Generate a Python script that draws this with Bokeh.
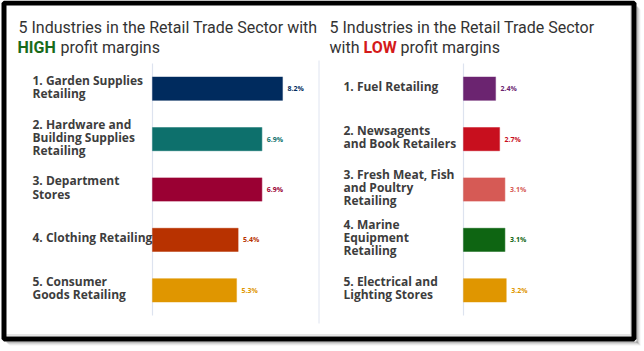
from bokeh.plotting import figure
from bokeh.models import Range1d, ColumnDataSource
from bokeh.core.properties import value
from bokeh.embed import file_html
from bokeh.resources import INLINE

# ---------------- data ----------------
high_labels = [
    "1. Garden Supplies\nRetailing",
    "2. Hardware and\nBuilding Supplies\nRetailing",
    "3. Department\nStores",
    "4. Clothing Retailing",
    "5. Consumer\nGoods Retailing",
]
high_values = [8.2, 6.9, 6.9, 5.4, 5.3]
high_colors = ["#002b5e", "#0d706c", "#9a0033", "#b83200", "#e09600"]

low_labels = [
    "1. Fuel Retailing",
    "2. Newsagents\nand Book Retailers",
    "3. Fresh Meat, Fish\nand Poultry\nRetailing",
    "4. Marine\nEquipment\nRetailing",
    "5. Electrical and\nLighting Stores",
]
low_values = [2.4, 2.7, 3.1, 3.1, 3.2]
low_colors = ["#6b2470", "#c80f1e", "#d65a55", "#0e6512", "#e09600"]

title_main_left = "5 Industries in the Retail Trade Sector with"
title_main_right = "5 Industries in the Retail Trade Sector"
# ---------------------------------------

W, H = 644, 351
p = figure(width=W, height=H, x_range=Range1d(0, W), y_range=Range1d(H, 0),
           output_backend="svg", toolbar_location=None, min_border=0)
p.axis.visible = False
p.grid.visible = False
p.outline_line_color = None
p.background_fill_color = "white"
p.border_fill_color = "white"

# category (row) range shared by both panels
band_top, band_bottom = 63.0, 315.0
n = len(high_labels)
unit = (band_bottom - band_top) / n
p.extra_y_ranges = {"cat": Range1d(n + 0.5 + (H - band_bottom) / unit, 0.5 - band_top / unit)}

# value ranges for each panel
l_origin, l_scale = 152.0, 15.85
r_origin, r_scale = 463.0, 13.35
p.extra_x_ranges = {
    "L": Range1d(-l_origin / l_scale, (W - l_origin) / l_scale),
    "R": Range1d(-r_origin / r_scale, (W - r_origin) / r_scale),
}

# ---- frame, shadow ----
for i, a in enumerate([0.35, 0.22, 0.12, 0.06]):
    p.quad(left=636 + i, right=637 + i, top=6 + i, bottom=342 + i, fill_color="black",
           fill_alpha=a, line_color=None)
    p.quad(left=6 + i, right=637 + i, top=341 + i, bottom=342 + i, fill_color="black",
           fill_alpha=a, line_color=None)
p.segment(x0=[630.5, 6], y0=[5, 334.5], x1=[630.5, 631], y1=[335, 334.5],
          line_color="#dddddd", line_width=1.5)
p.quad(left=3.5, right=633.5, top=2.5, bottom=338.5, fill_color=None,
       line_color="black", line_width=5)

# divider
p.segment(x0=318.5, y0=60, x1=318.5, y1=323, line_color="#dfe4f0", line_width=1)

# ---- titles ----
tf = value("Roboto")
p.text(x=[18], y=[27], text=[title_main_left], text_font=tf, text_font_size="16px",
       text_color="#333333", text_baseline="middle")
p.text(x=[17], y=[47], text=["HIGH"], text_font=tf, text_font_size="16px",
       text_font_style="bold", text_color="#1a6b1a", text_baseline="middle")
p.text(x=[60], y=[47], text=["profit margins"], text_font=tf, text_font_size="16px",
       text_color="#333333", text_baseline="middle")

p.text(x=[329], y=[27], text=[title_main_right], text_font=tf, text_font_size="16px",
       text_color="#333333", text_baseline="middle")
p.text(x=[329], y=[47], text=["with"], text_font=tf, text_font_size="16px",
       text_color="#333333", text_baseline="middle")
p.text(x=[363], y=[47], text=["LOW"], text_font=tf, text_font_size="16px",
       text_font_style="bold", text_color="#d41a1a", text_baseline="middle")
p.text(x=[400], y=[47], text=["profit margins"], text_font=tf, text_font_size="16px",
       text_color="#333333", text_baseline="middle")


def panel(labels, values, colors, xr, label_x):
    pos = [i + 1 for i in range(len(labels))]
    src = ColumnDataSource(dict(y=pos, v=values, c=colors, lab=labels,
                                txt=["%.1f%%" % v for v in values],
                                lx=[label_x] * len(labels)))
    # axis line
    p.segment(x0=0, y0=0.5, x1=0, y1=len(labels) + 0.5, x_range_name=xr,
              y_range_name="cat", line_color="#dde3ef", line_width=1.2)
    p.hbar(y="y", left=0, right="v", height=0.46, source=src, fill_color="c",
           line_color="c", line_alpha=0.45, line_width=1.2,
           x_range_name=xr, y_range_name="cat")
    p.text(x="v", y="y", text="txt", source=src, x_offset=5, text_color="c",
           text_font=value("Open Sans"), text_font_size="7px",
           text_font_style="bold", text_baseline="middle",
           x_range_name=xr, y_range_name="cat")
    p.text(x="lx", y="y", text="lab", source=src, y_offset=-2,
           text_color="#3d3d3d", text_font=value("Open Sans"),
           text_font_size="12px", text_font_style="bold",
           text_line_height=0.77, text_baseline="middle",
           y_range_name="cat")


panel(high_labels, high_values, high_colors, "L", 32)
panel(low_labels, low_values, low_colors, "R", 343)

open("out.html", "w").write(file_html(p, INLINE))
